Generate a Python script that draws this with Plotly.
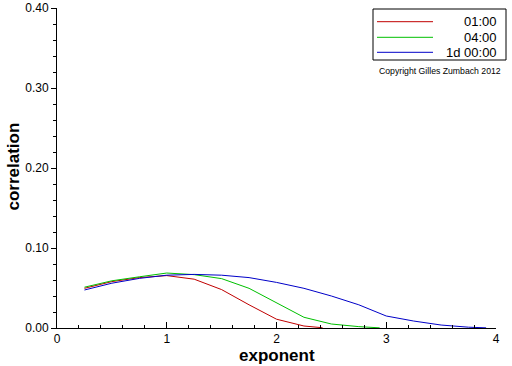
import plotly.graph_objects as go

series_names = ["01:00", "04:00", "1d 00:00"]
series_colors = ["#c00000", "#00c000", "#0000c8"]

x_red = [0.25, 0.5, 0.75, 1.0, 1.25, 1.5, 1.75, 2.0, 2.25, 2.42]
y_red = [0.0496, 0.058, 0.063, 0.0655, 0.061, 0.048, 0.029, 0.011, 0.0025, 0.0003]

x_green = [0.25, 0.5, 0.75, 1.0, 1.25, 1.5, 1.75, 2.0, 2.25, 2.5, 2.75, 2.94]
y_green = [0.051, 0.059, 0.064, 0.0687, 0.0667, 0.0617, 0.0496, 0.032, 0.0134, 0.005, 0.0017, 0.0002]

x_blue = [0.25, 0.5, 0.75, 1.0, 1.25, 1.5, 1.75, 2.0, 2.25, 2.5, 2.75, 3.0, 3.25, 3.5, 3.75, 3.91]
y_blue = [0.0475, 0.056, 0.062, 0.066, 0.067, 0.066, 0.063, 0.057, 0.0496, 0.040, 0.029, 0.015, 0.0087, 0.0037, 0.001, 0.0002]

xs = [x_red, x_green, x_blue]
ys = [y_red, y_green, y_blue]

fig = go.Figure()
for name, color, x, y in zip(series_names, series_colors, xs, ys):
    fig.add_trace(go.Scatter(x=x, y=y, mode="lines", name=name,
                             line=dict(color=color, width=1), showlegend=False))

font = "Liberation Sans, Arial, sans-serif"
W, H = 512, 366
l, r, t, b = 57, 16, 8, 38
pw, ph = W - l - r, H - t - b
def px(x): return (x - l) / pw
def py(y): return 1 - (y - t) / ph

fig.update_layout(
    width=W, height=H,
    margin=dict(l=l, r=r, t=t, b=b, autoexpand=False),
    paper_bgcolor="white", plot_bgcolor="white",
    font=dict(family=font, color="black", size=12),
    xaxis=dict(range=[0, 4], showgrid=False, zeroline=False, automargin=False,
               showline=True, linecolor="black", linewidth=1,
               tickvals=[0, 1, 2, 3, 4], ticktext=["0", "1", "2", "3", "4"],
               ticks="inside", ticklen=6, tickcolor="black",
               minor=dict(dtick=0.2, ticks="inside", ticklen=3, tickcolor="black", showgrid=False)),
    yaxis=dict(range=[0, 0.4], showgrid=False, zeroline=False, automargin=False,
               showline=True, linecolor="black", linewidth=1,
               tickvals=[0, 0.1, 0.2, 0.3, 0.4], tickformat=".2f",
               ticks="outside", ticklen=5, tickcolor="black",
               minor=dict(dtick=0.02, ticks="outside", ticklen=3, tickcolor="black", showgrid=False)),
)

# Axis titles
fig.add_annotation(xref="paper", yref="paper", x=px(276.5), y=py(355),
                   text="<b>exponent</b>", showarrow=False, xanchor="center", yanchor="middle",
                   font=dict(size=17, family=font, color="black"))
fig.add_annotation(xref="paper", yref="paper", x=px(13), y=py(166.5),
                   text="<b>correlation</b>", showarrow=False, textangle=-90,
                   xanchor="center", yanchor="middle",
                   font=dict(size=17, family=font, color="black"))

# Custom legend box
fig.add_shape(type="rect", xref="paper", yref="paper",
              x0=px(373), x1=px(506), y0=py(60), y1=py(9),
              line=dict(color="black", width=1), fillcolor="white")
line_ys = [21.7, 37.3, 52.3]
for name, color, ly in zip(series_names, series_colors, line_ys):
    fig.add_shape(type="line", xref="paper", yref="paper",
                  x0=px(377), x1=px(433), y0=py(ly), y1=py(ly),
                  line=dict(color=color, width=1))
    fig.add_annotation(xref="paper", yref="paper", x=px(499), y=py(ly),
                       text=name, showarrow=False, xanchor="right", yanchor="middle",
                       font=dict(size=13, family=font, color="black"))
fig.add_annotation(xref="paper", yref="paper", x=px(440), y=py(71),
                   text="Copyright Gilles Zumbach 2012", showarrow=False,
                   xanchor="center", yanchor="middle",
                   font=dict(size=8.7, family=font, color="black"))

fig.write_html("out.html", config={"displayModeBar": False},
               post_script="document.body.style.margin='0';document.body.style.overflow='hidden';")
